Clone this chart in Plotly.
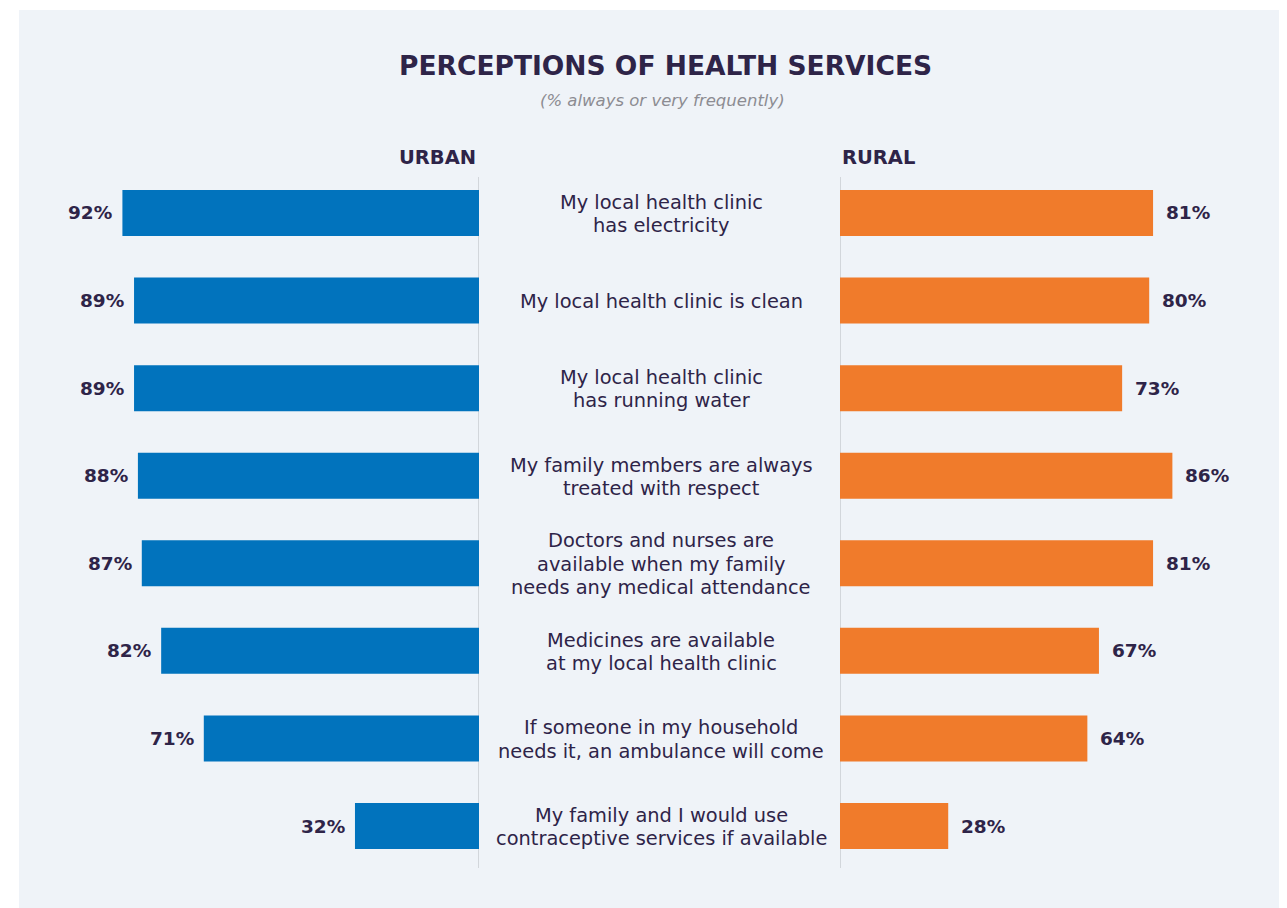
import plotly.graph_objects as go

categories = [
    "My local health clinic<br>has electricity",
    "My local health clinic is clean",
    "My local health clinic<br>has running water",
    "My family members are always<br>treated with respect",
    "Doctors and nurses are<br>available when my family<br>needs any medical attendance",
    "Medicines are available<br>at my local health clinic",
    "If someone in my household<br>needs it, an ambulance will come",
    "My family and I would use<br>contraceptive services if available",
]
urban = [92, 89, 89, 88, 87, 82, 71, 32]
rural = [81, 80, 73, 86, 81, 67, 64, 28]

# the page body has an 8px margin; work in target-screen pixels
OFF = 8
W, H = 1287 - OFF, 908 - OFF
TXT = "#2e2448"
FONT = "DejaVu Sans"
BLUE = "#0173bd"
ORANGE = "#f07b2b"
PANEL = "#eff3f8"


def px(x):
    return (x - OFF) / W


def py(y):
    return 1 - (y - OFF) / H


left_x0, left_x1 = 19, 479
right_x0 = 840
scale_l = 3.876
scale_r = 3.865
LINE = 23.3

fig = go.Figure()
fig.add_trace(go.Bar(
    y=categories, x=urban, orientation="h", xaxis="x", yaxis="y",
    marker=dict(color=BLUE, line=dict(width=0)), width=0.525,
    hoverinfo="x", showlegend=False,
))
fig.add_trace(go.Bar(
    y=categories, x=rural, orientation="h", xaxis="x2", yaxis="y",
    marker=dict(color=ORANGE, line=dict(width=0)), width=0.525,
    hoverinfo="x", showlegend=False,
))

annotations = []
for c, u, r in zip(categories, urban, rural):
    annotations.append(dict(
        x=u, y=c, xref="x", yref="y", text=f"{u}%", showarrow=False,
        xanchor="right", xshift=-8, yanchor="middle",
        font=dict(family=FONT, size=18.5, color=TXT, weight=700),
    ))
    annotations.append(dict(
        x=r, y=c, xref="x2", yref="y", text=f"{r}%", showarrow=False,
        xanchor="left", xshift=11, yanchor="middle",
        font=dict(family=FONT, size=18.5, color=TXT, weight=700),
    ))
    lines = c.split("<br>")
    n = len(lines)
    for i, ln in enumerate(lines):
        annotations.append(dict(
            x=px(661), y=c, xref="paper", yref="y", text=ln, showarrow=False,
            xanchor="center", yanchor="middle", align="center",
            yshift=-(i - (n - 1) / 2) * LINE - 1,
            font=dict(family=FONT, size=19.4, color=TXT),
        ))

annotations += [
    dict(x=px(665), y=py(65), xref="paper", yref="paper",
         text="PERCEPTIONS OF HEALTH SERVICES", showarrow=False,
         xanchor="center", yanchor="middle",
         font=dict(family=FONT, size=26.5, color=TXT, weight=700)),
    dict(x=px(662), y=py(100), xref="paper", yref="paper",
         text="<i>(% always or very frequently)</i>", showarrow=False,
         xanchor="center", yanchor="middle",
         font=dict(family=FONT, size=16.5, color="#8c8c92")),
    dict(x=px(478), y=py(157), xref="paper", yref="paper",
         text="URBAN", showarrow=False, xanchor="right", yanchor="middle",
         font=dict(family=FONT, size=19.5, color=TXT, weight=700)),
    dict(x=px(840), y=py(157), xref="paper", yref="paper",
         text="RURAL", showarrow=False, xanchor="left", yanchor="middle",
         font=dict(family=FONT, size=19.5, color=TXT, weight=700)),
]

shapes = [
    dict(type="rect", xref="paper", yref="paper", x0=px(19), x1=1.0,
         y0=0, y1=py(10), fillcolor=PANEL, line=dict(width=0), layer="below"),
    dict(type="line", xref="x", yref="paper", x0=0, x1=0,
         y0=py(868), y1=py(177), line=dict(color="#c9ccd2", width=1.5), layer="below"),
    dict(type="line", xref="x2", yref="paper", x0=0, x1=0,
         y0=py(868), y1=py(177), line=dict(color="#c9ccd2", width=1.5), layer="below"),
]

top, bottom = 169.2, 869.8
fig.update_layout(
    width=W, height=H,
    margin=dict(l=0, r=0, t=0, b=0),
    paper_bgcolor="white", plot_bgcolor="rgba(0,0,0,0)",
    xaxis=dict(domain=[px(left_x0), px(left_x1)],
               range=[(left_x1 - left_x0) / scale_l, 0],
               visible=False, fixedrange=True),
    xaxis2=dict(domain=[px(right_x0), 1.0],
                range=[0, (1287 - right_x0) / scale_r],
                visible=False, anchor="y", fixedrange=True),
    yaxis=dict(domain=[py(bottom), py(top)], type="category",
               categoryorder="array", categoryarray=categories,
               range=[7.5, -0.5], visible=False, fixedrange=True),
    annotations=annotations,
    shapes=shapes,
)

fig.write_html("out.html")
